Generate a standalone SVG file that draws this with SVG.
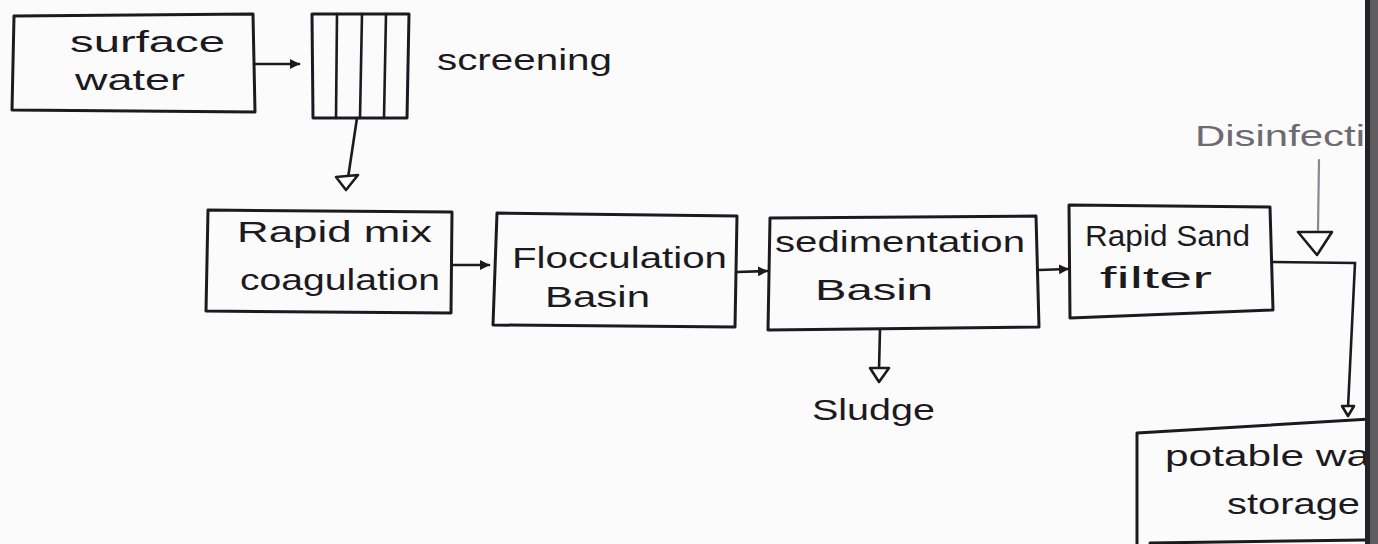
<svg xmlns="http://www.w3.org/2000/svg" width="1378" height="544" viewBox="0 0 1378 544">
<defs>
<style>
.box{fill:none;stroke:#1c1a1e;stroke-width:3;stroke-linejoin:round;stroke-linecap:round}
.ln{fill:none;stroke:#1c1a1e;stroke-width:2.6;stroke-linecap:round}
.thin{fill:none;stroke:#8a8790;stroke-width:2.2;stroke-linecap:round}
.tri{fill:#fff;stroke:#1c1a1e;stroke-width:2.6;stroke-linejoin:round}
.t{font-family:"Liberation Sans",Arial,sans-serif;fill:#1c1a1e;font-size:30px}
.tg{font-family:"Liberation Sans",Arial,sans-serif;fill:#6e6a72;font-size:30px}
</style>
<marker id="ah" markerWidth="12" markerHeight="12" refX="9" refY="6" orient="auto" markerUnits="userSpaceOnUse">
<path d="M0,1 L10,6 L0,11 Z" fill="#1c1a1e"/>
</marker>
<clipPath id="page"><rect x="0" y="0" width="1366" height="544"/></clipPath>
</defs>
<rect width="1378" height="544" fill="#fbfbfb"/>
<g clip-path="url(#page)">
<g id="surface-water">
<path class="box" d="M14,16 L253,14 L255,112 L12,110 Z"/>
<text class="t" x="70" y="52" textLength="155" lengthAdjust="spacingAndGlyphs">surface</text>
<text class="t" x="75" y="90" textLength="110" lengthAdjust="spacingAndGlyphs">water</text>
</g>
<g id="screening">
<path class="box" d="M312,14 L409,14 L407,118 L313,118 Z"/>
<path class="ln" d="M337,14 L336,118 M362,14 L360,118 M386,14 L384,118"/>
<text class="t" x="437" y="70" textLength="175" lengthAdjust="spacingAndGlyphs">screening</text>
</g>
<g id="rapid-mix">
<path class="box" d="M208,210 L452,212 L451,313 L206,311 Z"/>
<text class="t" x="237" y="242" textLength="195" lengthAdjust="spacingAndGlyphs">Rapid mix</text>
<text class="t" x="240" y="290" textLength="200" lengthAdjust="spacingAndGlyphs">coagulation</text>
</g>
<g id="flocculation">
<path class="box" d="M497,213 L737,216 L735,327 L493,325 Z"/>
<text class="t" x="512" y="268" textLength="215" lengthAdjust="spacingAndGlyphs">Flocculation</text>
<text class="t" x="545" y="307" textLength="105" lengthAdjust="spacingAndGlyphs">Basin</text>
</g>
<g id="sedimentation">
<path class="box" d="M770,218 L1036,216 L1039,327 L768,330 Z"/>
<text class="t" x="775" y="252" textLength="250" lengthAdjust="spacingAndGlyphs">sedimentation</text>
<text class="t" x="815" y="300" font-size="32" textLength="118" lengthAdjust="spacingAndGlyphs">Basin</text>
</g>
<g id="sludge">
<text class="t" x="812" y="420" textLength="123" lengthAdjust="spacingAndGlyphs">Sludge</text>
</g>
<g id="rapid-sand-filter">
<path class="box" d="M1069,205 L1270,207 L1273,310 L1070,318 Z"/>
<text class="t" x="1085" y="246" font-size="26" textLength="165" lengthAdjust="spacingAndGlyphs">Rapid Sand</text>
<text class="t" x="1100" y="288" font-size="36" textLength="112" lengthAdjust="spacingAndGlyphs">filter</text>
</g>
<g id="disinfection">
<text class="tg" x="1195" y="146" textLength="170" lengthAdjust="spacingAndGlyphs">Disinfecti</text>
</g>
<g id="potable-water-storage">
<path class="box" d="M1137,544 L1137,433 L1370,419"/>
<path class="box" d="M1150,543 L1365,540"/>
<text class="t" x="1165" y="466" textLength="205" lengthAdjust="spacingAndGlyphs">potable wa</text>
<text class="t" x="1227" y="514" textLength="133" lengthAdjust="spacingAndGlyphs">storage</text>
</g>
<g id="connectors">
<path class="ln" d="M255,64 L299,64" marker-end="url(#ah)"/>
<path class="ln" d="M357,118 L348,178"/>
<path class="tri" d="M336,177 L358,175 L346,190 Z"/>
<path class="ln" d="M453,265 L489,265" marker-end="url(#ah)"/>
<path class="ln" d="M737,272 L767,271" marker-end="url(#ah)"/>
<path class="ln" d="M1039,270 L1068,269" marker-end="url(#ah)"/>
<path class="ln" d="M880,329 L879,370"/>
<path class="tri" d="M870,368 L889,368 L879,382 Z"/>
<path class="thin" d="M1319,160 L1318,230"/>
<path class="tri" d="M1298,232 L1332,232 L1317,255 Z"/>
<path class="ln" d="M1272,262 L1355,263 L1348,408"/>
<path class="tri" d="M1342,406 L1354,406 L1348,416 Z"/>
</g>
</g>
<rect x="1365" y="0" width="5" height="544" fill="#242226"/>
<rect x="1370" y="0" width="8" height="544" fill="#5e5c60"/>
</svg>
